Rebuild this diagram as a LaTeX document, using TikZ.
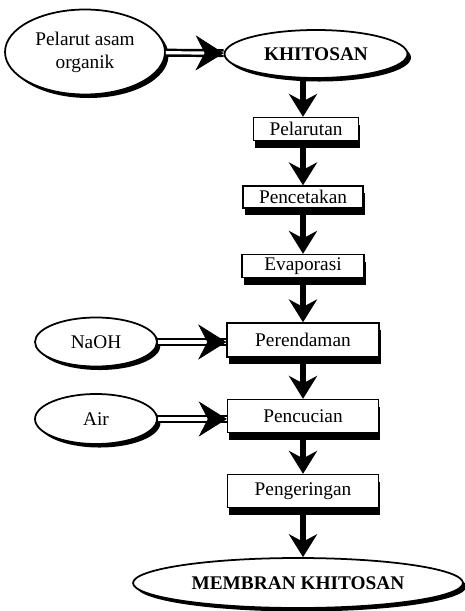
\documentclass[tikz,border=0pt]{standalone}
\usepackage{fontspec}
\setmainfont{Liberation Serif}
\usetikzlibrary{arrows.meta,positioning,shapes.geometric,shadows}
\tikzset{
  bahan/.style={
    ellipse,
    draw=black,
    line width=1pt,
    fill=white,
    align=center,
    inner sep=0pt,
    drop shadow={shadow xshift=2pt,shadow yshift=-2pt,fill=black,opacity=1},
    font=\fontsize{11}{13}\selectfont
  },
  proses/.style={
    rectangle,
    draw=black,
    line width=.8pt,
    fill=white,
    align=center,
    inner sep=0pt,
    drop shadow={shadow xshift=1pt,shadow yshift=-4pt,fill=black,opacity=1},
    font=\fontsize{11}{13}\selectfont
  },
  panah/.style={
    -{Stealth[length=13pt,width=16pt]},
    line width=3pt
  },
  ganda/.style={
    double=white,
    double distance=1.8pt,
    line width=1.4pt
  },
  ujung/.style={
    draw=white,
    line width=.4pt,
    -{Stealth[length=16pt,width=20pt,color=black]}
  }
}

\begin{document}
\begin{tikzpicture}[x=0.02cm,y=-0.02cm]
\useasboundingbox (0,0) rectangle (465,611);
\node[bahan,minimum width=3.2cm,minimum height=1.7cm] (pelarut) at (85,52) {Pelarut asam\\organik};
\node[bahan,minimum width=3.66cm,minimum height=0.96cm,font=\fontsize{11}{13}\selectfont\bfseries] (khitosan) at (316,54) {KHITOSAN};
\node[proses,minimum width=2.1cm,minimum height=0.46cm] (b1) at (306,129) {Pelarutan};
\node[proses,minimum width=2.4cm,minimum height=0.44cm] (b2) at (303,197) {Pencetakan};
\node[proses,minimum width=2.44cm,minimum height=0.46cm] (b3) at (303,266) {Evaporasi};
\node[proses,minimum width=3.04cm,minimum height=0.68cm] (b4) at (303,340) {Perendaman};
\node[proses,minimum width=3.02cm,minimum height=0.66cm] (b5) at (303,416) {Pencucian};
\node[proses,minimum width=3.02cm,minimum height=0.66cm] (b6) at (303,491) {Pengeringan};
\node[bahan,minimum width=6.6cm,minimum height=1.0cm,font=\fontsize{11}{13}\selectfont\bfseries] (membran) at (298,583) {MEMBRAN KHITOSAN};
\node[bahan,minimum width=2.44cm,minimum height=0.98cm] (naoh) at (96,342) {NaOH};
\node[bahan,minimum width=2.44cm,minimum height=1.0cm] (air) at (96,419) {Air};

\draw[ganda] (pelarut) -- (khitosan);
\draw[ujung] (pelarut) -- (khitosan);
\draw[ganda] (naoh.east) -- (naoh.east -| b4.west);
\draw[ujung] (naoh.east) -- (naoh.east -| b4.west);
\draw[ganda] (air.east) -- (air.east -| b5.west);
\draw[ujung] (air.east) -- (air.east -| b5.west);

\draw[panah] (khitosan.south -| b2) -- (b1.north -| b2);
\draw[panah] (b1.south -| b2) -- (b2);
\draw[panah] (b2) -- (b3);
\draw[panah] (b3) -- (b4);
\draw[panah] (b4) -- (b5);
\draw[panah] (b5) -- (b6);
\draw[panah] (b6) -- (b6 |- membran.north);
\end{tikzpicture}
\end{document}
